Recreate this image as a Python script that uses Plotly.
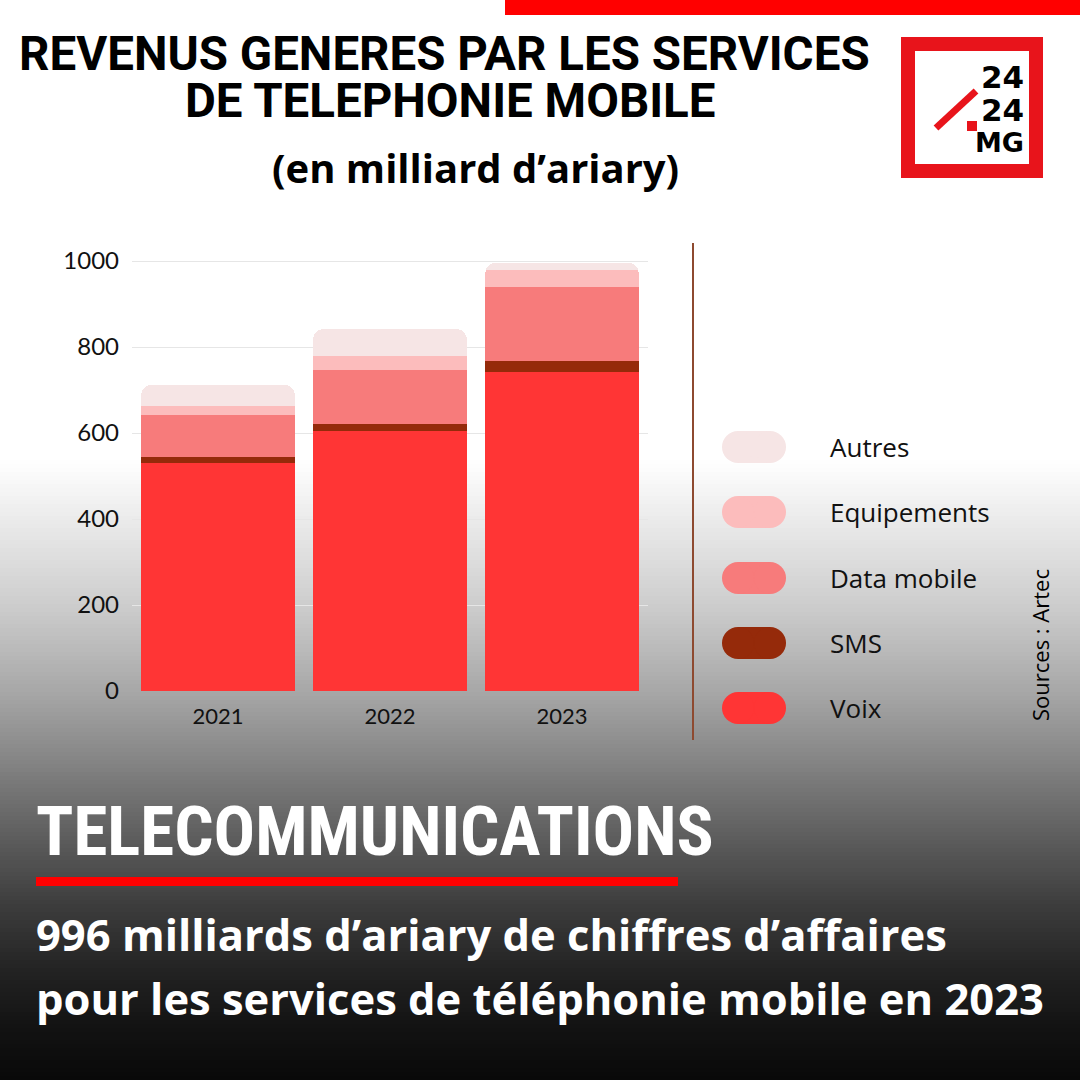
import plotly.graph_objects as go
import numpy as np

# ---------------- data ----------------
years = ["2021", "2022", "2023"]
series_names = ["Voix", "SMS", "Data mobile", "Equipements", "Autres"]
voix = [530, 605, 743]
sms = [14, 17, 25]
data_mobile = [97, 125, 172]
equipements = [21, 33, 40]
autres = [50, 62, 16]
series_values = [voix, sms, data_mobile, equipements, autres]
series_colors = ["#FF3535", "#952A0A", "#F77B7B", "#FCBCBC", "#F6E5E5"]
y_ticks = [0, 200, 400, 600, 800, 1000]

W = H = 1080


def px(x):
    return x / W


def py(y):
    return 1 - y / H


fig = go.Figure()
for name, vals, col in zip(series_names, series_values, series_colors):
    fig.add_trace(go.Bar(x=years, y=vals, name=name, marker=dict(color=col, line=dict(width=0)),
                         showlegend=False))

shapes = []
# gradient background (white top fading to near-black at the bottom)
stops_y = [0, 460, 540, 607, 640, 707, 773, 840, 907, 973, 1030, 1080]
stops_g = [255, 255, 228, 204, 190, 160, 126, 92, 60, 34, 18, 9]
step = 4
for y0 in range(0, H, step):
    g = int(round(np.interp(y0 + step / 2, stops_y, stops_g)))
    shapes.append(dict(type="rect", xref="paper", yref="paper", x0=0, x1=1,
                       y0=py(y0 + step + 0.5), y1=py(y0), fillcolor=f"rgb({g},{g},{g})",
                       line=dict(width=0), layer="below"))

# top red strip
shapes.append(dict(type="rect", xref="paper", yref="paper", x0=px(505), x1=1, y0=py(15), y1=1,
                   fillcolor="#FF0000", line=dict(width=0), layer="above"))

# logo
shapes.append(dict(type="rect", xref="paper", yref="paper", x0=px(908), x1=px(1036), y0=py(171), y1=py(44),
                   fillcolor="rgba(0,0,0,0)", line=dict(color="#E8141B", width=14), layer="above"))
shapes.append(dict(type="line", xref="paper", yref="paper", x0=px(936), y0=py(128), x1=px(976), y1=py(91),
                   line=dict(color="#E8141B", width=7), layer="above"))
shapes.append(dict(type="rect", xref="paper", yref="paper", x0=px(967), x1=px(977), y0=py(131), y1=py(121),
                   fillcolor="#E8141B", line=dict(width=0), layer="above"))

# vertical separator
shapes.append(dict(type="line", xref="paper", yref="paper", x0=px(693), x1=px(693), y0=py(740), y1=py(243),
                   line=dict(color="#8E4A30", width=2), layer="above"))

# bottom red underline
shapes.append(dict(type="rect", xref="paper", yref="paper", x0=px(36), x1=px(678), y0=py(886), y1=py(877),
                   fillcolor="#FF0000", line=dict(width=0), layer="above"))

annotations = []
# legend pills (built from series)
legend_y = [708, 643, 578, 512, 447]
pill_x0, pill_x1, pill_h = 722, 786, 32
r = pill_h / 2
for name, col, cy in zip(series_names, series_colors, legend_y):
    shapes.append(dict(type="rect", xref="paper", yref="paper", x0=px(pill_x0 + r), x1=px(pill_x1 - r),
                       y0=py(cy + r), y1=py(cy - r), fillcolor=col, line=dict(width=0), layer="above"))
    for cx in (pill_x0 + r, pill_x1 - r):
        shapes.append(dict(type="circle", xref="paper", yref="paper", x0=px(cx - r), x1=px(cx + r),
                           y0=py(cy + r), y1=py(cy - r), fillcolor=col, line=dict(width=0), layer="above"))
    annotations.append(dict(text=name, xref="paper", yref="paper", x=px(828), y=py(cy), xanchor="left",
                            yanchor="middle", showarrow=False,
                            font=dict(family="Open Sans", size=26, color="#111111")))

# titles
annotations += [
    dict(text="<b>REVENUS GENERES PAR LES SERVICES</b>", x=px(444), y=py(54)),
    dict(text="<b>DE TELEPHONIE MOBILE</b>", x=px(450), y=py(101)),
]
for a in annotations[-2:]:
    a.update(xref="paper", yref="paper", xanchor="center", yanchor="middle", showarrow=False, height=40,
             font=dict(family="Roboto", size=47.5, color="#000000"))
annotations.append(dict(text="<b>(en milliard d’ariary)</b>", x=px(475), y=py(167), xref="paper", yref="paper",
                        xanchor="center", yanchor="middle", showarrow=False,
                        font=dict(family="Open Sans", size=40, color="#000000")))

# logo text
for t, yy, sz in [("24", 77, 31), ("24", 110, 31), ("MG", 142, 27)]:
    annotations.append(dict(text=f"<b>{t}</b>", x=px(1026), y=py(yy), xref="paper", yref="paper",
                            xanchor="right", yanchor="middle", showarrow=False, height=26,
                            font=dict(family="DejaVu Sans", size=sz, color="#000000")))

# source
annotations.append(dict(text="Sources : Artec", x=px(1040), y=py(645), xref="paper", yref="paper",
                        xanchor="center", yanchor="middle", showarrow=False, textangle=-90,
                        font=dict(family="Open Sans", size=22, color="#000000")))

# bottom texts
annotations.append(dict(text="<b>TELECOMMUNICATIONS</b>", x=px(34), y=py(831), xref="paper", yref="paper",
                        xanchor="left", yanchor="middle", showarrow=False,
                        font=dict(family="Liberation Sans Narrow, Roboto Condensed, Roboto", size=69,
                                  color="#FFFFFF")))
annotations.append(dict(text="<b>996 milliards d’ariary de chiffres d’affaires</b>", x=px(34), y=py(934),
                        xref="paper", yref="paper", xanchor="left", yanchor="middle", showarrow=False,
                        font=dict(family="Open Sans", size=43.5, color="#FFFFFF")))
annotations.append(dict(text="<b>pour les services de téléphonie mobile en 2023</b>", x=px(34), y=py(998),
                        xref="paper", yref="paper", xanchor="left", yanchor="middle", showarrow=False,
                        font=dict(family="Open Sans", size=43.5, color="#FFFFFF")))

y_top = 1010
fig.update_layout(
    width=W, height=H, autosize=False,
    margin=dict(l=0, r=0, t=0, b=0, pad=0, autoexpand=False),
    paper_bgcolor="#FFFFFF", plot_bgcolor="rgba(0,0,0,0)",
    barmode="stack", bargap=0.105, barcornerradius=11,
    shapes=shapes, annotations=annotations,
    xaxis=dict(domain=[px(132), px(648)], range=[-0.5, 2.5], type="category", showgrid=False,
               automargin=False,
               showline=False, zeroline=False, ticks="", tickfont=dict(family="Lato", size=22, color="#111111"),
               ticklabelstandoff=10),
    yaxis=dict(domain=[py(691), py(691 - 0.43 * y_top)], range=[0, y_top], tickvals=y_ticks,
               automargin=False,
               showgrid=True, gridcolor="#E6E6E6", gridwidth=1, zeroline=False, showline=False,
               ticks="", tickfont=dict(family="Lato", size=24, color="#111111"), ticklabelstandoff=12),
    font=dict(family="Open Sans"),
)

fig.write_html("out.html", config={"displayModeBar": False},
               post_script="document.body.style.margin='0';document.body.style.overflow='hidden';")
